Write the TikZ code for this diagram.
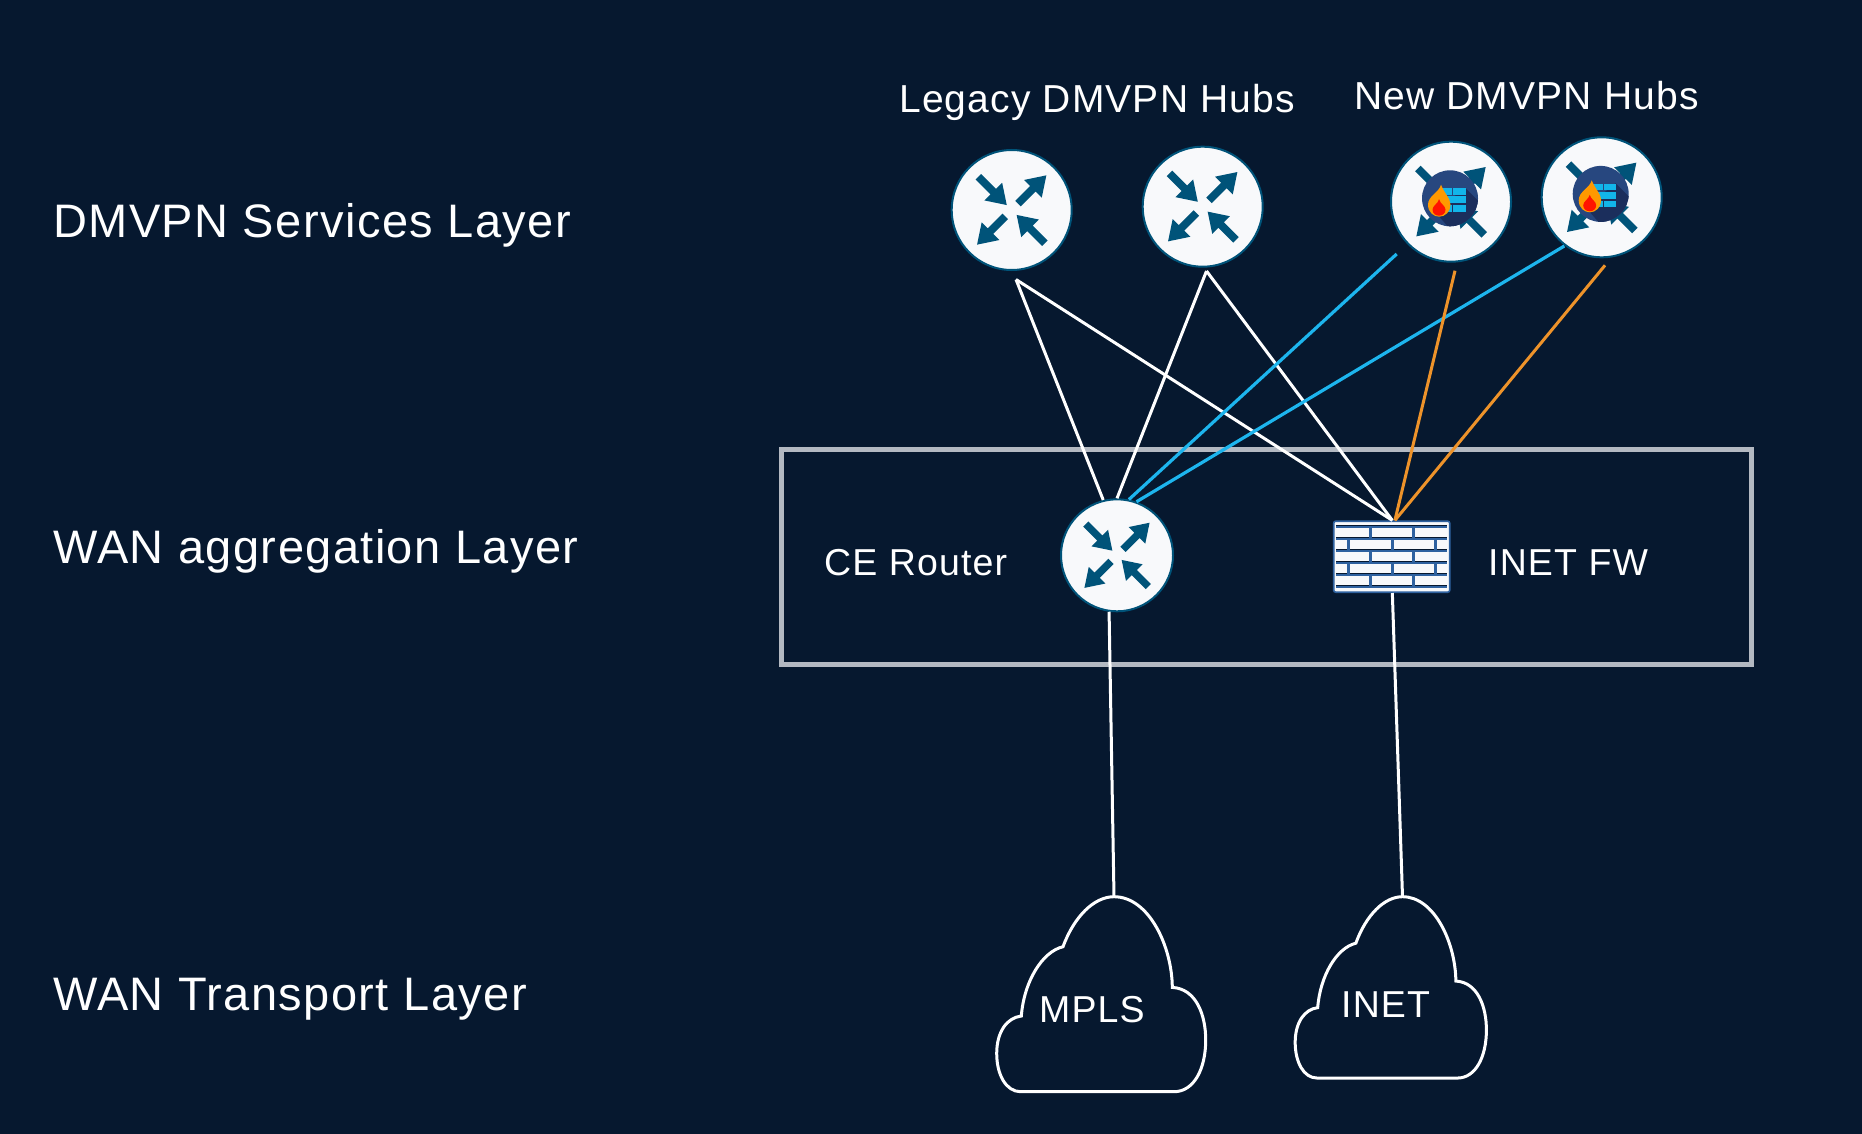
\documentclass[tikz,border=0pt]{standalone}
\usepackage{fontspec}
\setmainfont{Liberation Sans}[LetterSpace=3]
\definecolor{bgcolor}{HTML}{06182F}
\definecolor{iconteal}{HTML}{005379}
\definecolor{iconfill}{HTML}{F8F9FB}
\definecolor{boxgray}{HTML}{B3B9C2}
\definecolor{bluelink}{HTML}{1DB5EE}
\definecolor{orangelink}{HTML}{EE932A}
\definecolor{fwblue}{HTML}{2F62A0}
\definecolor{discblue}{HTML}{27477F}
\definecolor{discshade}{HTML}{1B2E5C}
\definecolor{brickcyan}{HTML}{12B5EA}
\begin{document}
\begin{tikzpicture}[x=1pt,y=-1pt,
routerstyle/.style={circle,draw=iconteal,line width=2,fill=iconfill,minimum size=120,inner sep=0},
fwstyle/.style={rectangle,draw=fwblue,line width=1.6,fill=iconfill,rounded corners=2,minimum width=116,minimum height=71,inner sep=0},
biglabel/.style={anchor=base west,inner sep=0,text=white,font=\fontsize{47}{52}\selectfont},
smalllabel/.style={anchor=base west,inner sep=0,text=white,font=\fontsize{39}{44}\selectfont},
boxlabel/.style={anchor=base west,inner sep=0,text=white,font=\fontsize{37.5}{44}\selectfont},
whitelink/.style={white,line width=3},
bluelinkstyle/.style={bluelink,line width=3.2},
orangelinkstyle/.style={orangelink,line width=3},
routerarrows/.pic={
\foreach \a in {45,225}
    \fill[iconteal,rotate=\a] (9,-3.9)--(30,-3.9)--(30,-12.5)--(49,0)--(30,12.5)--(30,3.9)--(9,3.9)--cycle;
\foreach \a in {135,315}
    \fill[iconteal,rotate=\a] (47,-3.9)--(26,-3.9)--(26,-12.5)--(7,0)--(26,12.5)--(26,3.9)--(47,3.9)--cycle;
},
hubicon/.pic={
\pic {routerarrows};
\fill[discblue] (-1,-3.4) circle (28);
\begin{scope}
\clip (-1,-3.4) circle (28);
\fill[discshade] (-16,10)--(14,-14)--(40,12)--(10,40)--cycle;
\end{scope}
\fill[brickcyan] (-9,-13.4) rectangle (1.2,-7);
\fill[brickcyan] (2.4,-13.4) rectangle (14.5,-7);
\fill[brickcyan] (-9,-5.6) rectangle (14.5,1.4);
\fill[brickcyan] (-9,3.4) rectangle (1.2,10);
\fill[brickcyan] (2.4,3.4) rectangle (14.5,10);
\fill[orange!80!yellow] (-10,-17) .. controls (-12,-9) and (-23,-6) .. (-23,3) .. controls (-23,11) and (-17,15) .. (-11.7,15) .. controls (-6,15) and (-0.5,10) .. (-0.5,3) .. controls (-0.5,-3) and (-7,-9) .. (-10,-17);
\fill[red!85!orange] (-12,-2.5) .. controls (-13,2) and (-18.5,4) .. (-18.5,8) .. controls (-18.5,12) and (-15,14) .. (-12,14) .. controls (-9,14) and (-5.5,12) .. (-5.5,8) .. controls (-5.5,4) and (-11,2) .. (-12,-2.5);
},
fwbricks/.pic={
\foreach \y in {-30,-18,-6,6,18,30} {
    \draw[fwblue,line width=3.2] (-55.5,\y)--(55.5,\y);
    \draw[bgcolor,line width=.9] (-55.5,\y-1)--(55.5,\y-1);
}
\foreach \y in {-24,0,24}
    \foreach \x in {-21,22}
        \draw[fwblue,line width=3] (\x,\y-5)--(\x,\y+5);
\foreach \y in {-12,12}
    \foreach \x in {-43,1,44}
        \draw[fwblue,line width=3] (\x,\y-5)--(\x,\y+5);
},
cloudshape/.pic={
\draw[white,line width=3] (0,0) .. controls (35,0) and (58,50) .. (58.3,90.7) .. controls (82,92) and (91.7,118) .. (91.7,143.3) .. controls (91.7,172) and (80,195) .. (60,195) -- (-93.3,195) .. controls (-108,195) and (-117.3,178) .. (-117.3,156.7) .. controls (-117.3,135) and (-107,121) .. (-92.7,119.3) .. controls (-90,85) and (-72,55) .. (-51,50) .. controls (-40,20) and (-20,0) .. cycle;
}]
\useasboundingbox (0,0) rectangle (1862,1134);
\fill[bgcolor] (0,0) rectangle (1862,1134);
\node[rectangle,draw=boxgray,line width=4.6,minimum width=970,minimum height=215,inner sep=0](box) at (1266.5,557){};
\node[routerstyle](R1) at (1011.7,210){};
\node[routerstyle](R2) at (1202.7,206.7){};
\node[routerstyle](H1) at (1451,201.7){};
\node[routerstyle](H2) at (1601.7,197.3){};
\node[routerstyle,minimum size=112](CE) at (1117,555.3){};
\node[fwstyle](FW) at (1391.7,556.7){};
\pic at (R1) {routerarrows};
\pic at (R2) {routerarrows};
\pic at (H1) {hubicon};
\pic at (H2) {hubicon};
\pic[scale=.94] at (CE) {routerarrows};
\pic at (FW) {fwbricks};
\coordinate (MPLStop) at (1114,896.7);
\coordinate (INETtop) at (1402.5,896.7);
\pic at (MPLStop) {cloudshape};
\pic[xscale=.915,yscale=.93] at (INETtop) {cloudshape};
\coordinate (R1tip) at (1016,279.5);
\coordinate (R2tip) at (1206.5,271);
\coordinate (H1blue) at (1396.7,254);
\coordinate (H1orange) at (1455,270.7);
\coordinate (H2blue) at (1564.3,246);
\coordinate (H2orange) at (1605,265.3);
\draw[whitelink] (R1tip)--(CE.104);
\draw[whitelink] (R1tip)--(FW.89);
\draw[whitelink] (R2tip)--(CE.90);
\draw[whitelink] (R2tip)--(FW.89);
\draw[bluelinkstyle] (H1blue)--(CE.78);
\draw[bluelinkstyle] (H2blue)--(CE.70);
\draw[orangelinkstyle] (H1orange)--(FW.85);
\draw[orangelinkstyle] (H2orange)--(FW.85);
\draw[whitelink] (CE.-98)--(MPLStop);
\draw[whitelink] (FW.-89)--(INETtop);
\node[biglabel](dmvpnlayer) at (53,237){DMVPN Services Layer};
\node[biglabel](aggrlayer) at (53,563.5){WAN aggregation Layer};
\node[biglabel](transportlayer) at (53,1010){WAN Transport Layer};
\node[smalllabel](legacyhubs) at (899,112.5){Legacy DMVPN Hubs};
\node[smalllabel](newhubs) at (1354,110){New DMVPN Hubs};
\node[boxlabel](celabel) at (824,575){CE Router};
\node[boxlabel](fwlabel) at (1488,575){INET FW};
\node[boxlabel](mplslabel) at (1039,1022.7){MPLS};
\node[boxlabel](inetlabel) at (1341,1017){INET};
\end{tikzpicture}
\end{document}
